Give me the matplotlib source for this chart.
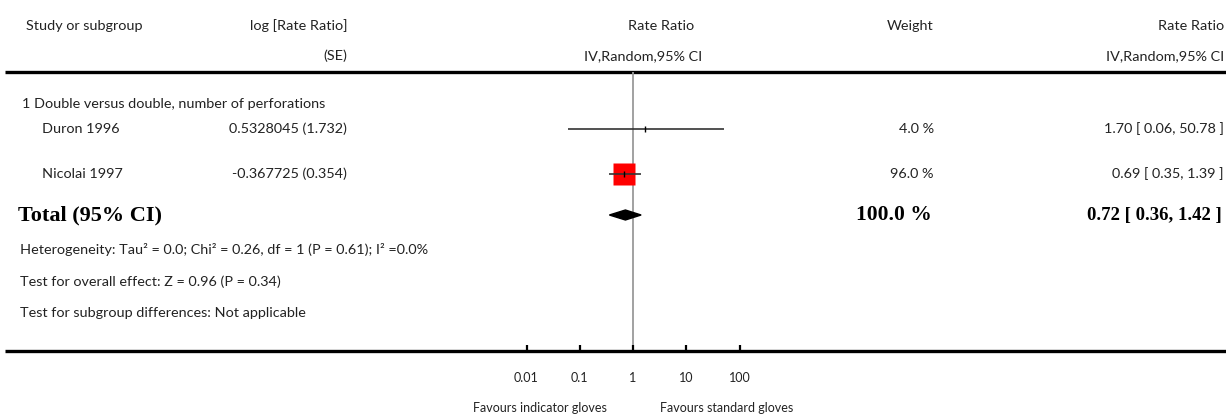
import matplotlib
matplotlib.use("Agg")
import matplotlib.pyplot as plt
from matplotlib.patches import Polygon

# ---- data ----
studies = ["Duron 1996", "Nicolai 1997"]
log_rr = [0.5328045, -0.367725]
se = [1.732, 0.354]
rr = [1.70, 0.69]
ci_lo = [0.06, 0.35]
ci_hi = [50.78, 1.39]
weight = [4.0, 96.0]

total_rr, total_lo, total_hi, total_w = 0.72, 0.36, 1.42, 100.0

group_label = "1 Double versus double, number of perforations"
footnotes = ["Heterogeneity: Tau² = 0.0; Chi² = 0.26, df = 1 (P = 0.61); I² =0.0%",
             "Test for overall effect: Z = 0.96 (P = 0.34)",
             "Test for subgroup differences: Not applicable"]
tick_vals = [0.01, 0.1, 1, 10, 100]
tick_labels = ["0.01", "0.1", "1", "10", "100"]
favours = ["Favours indicator gloves", "Favours standard gloves"]

SANS = ["Lato", "DejaVu Sans"]
SERIF = ["Liberation Serif", "DejaVu Serif"]
W, H = 1226, 417
FS = 10.4

fig = plt.figure(figsize=(W / 100, H / 100), dpi=100)
ax = fig.add_axes([0, 0, 1, 1])
ax.set_xlim(0, W); ax.set_ylim(H, 0); ax.axis("off")

def txt(x, y, s, ha="left", size=FS, family=SANS, weight="normal"):
    ax.text(x, y, s, ha=ha, va="center", fontsize=size, family=family,
            fontweight=weight, color="#222222" if weight == "normal" else "black")

# header
txt(26, 26, "Study or subgroup")
txt(347, 26, "log [Rate Ratio]", ha="right")
txt(347, 56, "(SE)", ha="right")
txt(661, 26, "Rate Ratio", ha="center")
txt(643, 56, "IV,Random,95% CI", ha="center")
txt(934, 26, "Weight", ha="right")
txt(1224, 26, "Rate Ratio", ha="right")
txt(1224, 56, "IV,Random,95% CI", ha="right")
ax.hlines([72, 351], 5, W, color="black", lw=2.4)

# rows
row_y = [129, 174]
txt(22, 104, group_label)
for name, v, s, e, lo, hi, w, y in zip(studies, log_rr, se, rr, ci_lo, ci_hi, weight, row_y):
    txt(42, y, name)
    txt(347, y, f"{v} ({s})", ha="right")
    txt(934, y, f"{w:.1f} %", ha="right")
    txt(1224, y, f"{e:.2f} [ {lo:.2f}, {hi:.2f} ]", ha="right")

tot_y = 215
txt(18, tot_y, "Total (95% CI)", size=16, family=SERIF, weight="bold")
txt(932, tot_y, f"{total_w:.1f} %", ha="right", size=15.5, family=SERIF, weight="bold")
txt(1222, tot_y, f"{total_rr:.2f} [ {total_lo:.2f}, {total_hi:.2f} ]", ha="right",
    size=13.5, family=SERIF, weight="bold")
for s, y in zip(footnotes, [250, 282, 313]):
    txt(20, y, s)

# forest panel: log scale, 1 at x=633 px
x0, x1 = 633 - 213, 633 + 213
fx = fig.add_axes([x0 / W, (H - 351) / H, (x1 - x0) / W, (351 - 72) / H])
fx.set_xscale("log")
fx.set_xlim(1e-4, 1e4)
fx.set_ylim(351, 72)
fx.patch.set_alpha(0)
for sp in fx.spines.values():
    sp.set_visible(False)
fx.axvline(1, color="#9a9a9a", lw=1.3, zorder=1)
max_w = max(weight)
for e, lo, hi, w, y in zip(rr, ci_lo, ci_hi, weight, row_y):
    fx.plot([e], [y], marker="s", ms=16 * w / max_w, color="red", mec="none", zorder=2)
    fx.hlines(y, lo, hi, color="#333333", lw=1.2, zorder=3)
    fx.plot([e], [y], marker="|", ms=4, mew=1, color="black", zorder=4)
fx.add_patch(Polygon([(total_lo, tot_y), (total_rr, tot_y - 5), (total_hi, tot_y),
                      (total_rr, tot_y + 5)], closed=True, color="black", zorder=4))
fx.set_yticks([])
fx.set_xticks(tick_vals)
fx.set_xticklabels(tick_labels, family=SANS, fontsize=9, color="#222222")
fx.minorticks_off()
fx.tick_params(axis="x", direction="in", length=4, width=1.6, pad=15, colors="black",
               labelcolor="#222222")
ax.text(607, 408, favours[0], ha="right", va="center", fontsize=9, family=SANS, color="#222222")
ax.text(660, 408, favours[1], ha="left", va="center", fontsize=9, family=SANS, color="#222222")

fig.savefig("out.png", dpi=100)
